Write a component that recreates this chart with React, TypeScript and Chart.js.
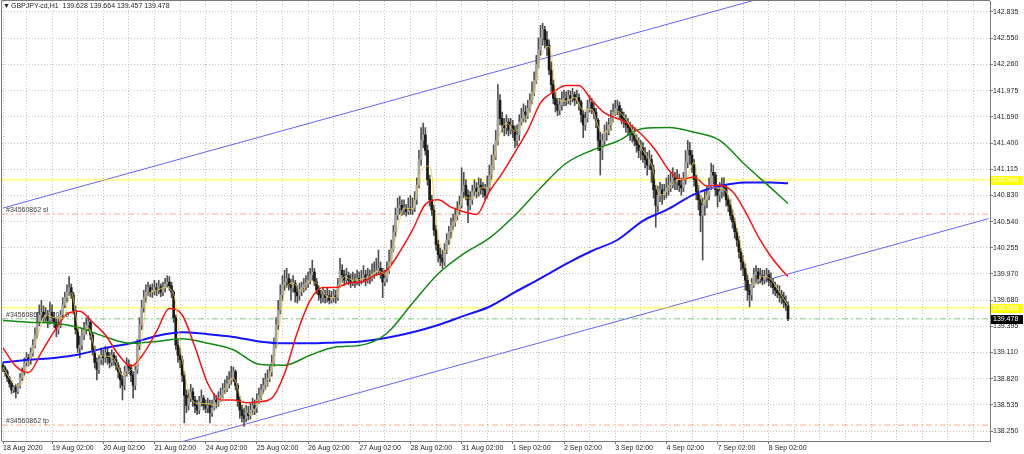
import React, { useEffect, useRef } from 'react';
import { Chart, registerables } from 'chart.js';

Chart.register(...registerables);

// ---------- text / axes ----------
const symbolTitle = 'GBPJPY-cd,H1';
const firstDateLabel = '18 Aug 2020';
const dayLabels = [
  '19 Aug 02:00', '20 Aug 02:00', '21 Aug 02:00', '24 Aug 02:00', '25 Aug 02:00',
  '26 Aug 02:00', '27 Aug 02:00', '28 Aug 02:00', '31 Aug 02:00', '1 Sep 02:00',
  '2 Sep 02:00', '3 Sep 02:00', '4 Sep 02:00', '7 Sep 02:00', '8 Sep 02:00',
];
const yTickValues = [
  142.835, 142.55, 142.26, 141.975, 141.69, 141.4, 141.115, 140.83, 140.54,
  140.255, 139.97, 139.68, 139.395, 139.11, 138.82, 138.535, 138.25,
];

// ---------- H1 candles (18 Aug 03:00 .. 8 Sep 11:00) ----------
const firstOpen = 138.97;
const closes = [
  138.94,138.90,138.83,138.77,138.70,138.73,138.68,138.75,138.83,138.90,139.00,139.05,
  139.03,139.11,139.19,139.30,139.44,139.52,139.55,139.49,139.52,139.46,139.55,139.49,
  139.44,139.36,139.41,139.52,139.63,139.71,139.77,139.82,139.74,139.57,139.36,139.16,
  139.19,139.30,139.36,139.41,139.44,139.30,139.14,139.00,138.92,139.03,139.08,139.05,
  139.11,139.05,139.00,139.08,139.03,138.97,138.90,138.81,138.75,138.90,138.97,138.94,
  138.86,138.75,138.92,139.19,139.41,139.60,139.71,139.77,139.82,139.77,139.79,139.82,
  139.79,139.83,139.77,139.82,139.86,139.88,139.84,139.77,139.49,139.19,139.08,139.03,
  138.86,138.64,138.53,138.61,138.68,138.59,138.53,138.48,138.57,138.61,138.53,138.50,
  138.53,138.45,138.50,138.59,138.57,138.61,138.64,138.70,138.72,138.77,138.81,138.83,
  138.90,138.75,138.59,138.48,138.42,138.39,138.45,138.42,138.48,138.53,138.50,138.59,
  138.64,138.70,138.75,138.81,138.83,138.90,139.00,139.19,139.41,139.57,139.74,139.85,
  139.88,139.92,139.85,139.82,139.87,139.77,139.73,139.79,139.82,139.85,139.87,139.90,
  139.96,139.99,139.88,139.79,139.74,139.71,139.74,139.71,139.73,139.68,139.71,139.73,
  139.71,139.85,140.01,139.96,139.90,139.95,139.90,139.87,139.90,139.88,139.92,139.90,
  139.92,139.96,139.90,139.95,139.92,139.97,139.99,140.01,140.03,139.99,139.88,139.92,
  140.01,140.10,140.25,140.43,140.61,140.69,140.72,140.67,140.69,140.65,140.69,140.67,
  140.69,140.78,140.94,141.22,141.43,141.49,141.32,141.00,140.78,140.67,140.45,140.29,
  140.18,140.14,140.10,140.23,140.34,140.43,140.50,140.54,140.61,140.67,140.72,140.87,
  140.94,140.83,140.72,140.78,140.87,140.91,140.87,140.94,140.91,140.89,140.83,140.91,
  141.05,141.16,141.27,141.43,141.87,141.67,141.60,141.57,141.63,141.54,141.59,141.54,
  141.43,141.49,141.63,141.67,141.74,141.71,141.78,141.87,141.96,142.09,142.26,142.42,
  142.55,142.64,142.53,142.47,142.20,142.04,141.89,141.82,141.76,141.82,141.87,141.89,
  141.87,141.92,141.89,141.93,141.87,141.90,141.85,141.71,141.60,141.67,141.78,141.84,
  141.78,141.74,141.65,141.43,141.32,141.43,141.52,141.54,141.60,141.67,141.74,141.78,
  141.81,141.74,141.67,141.65,141.60,141.57,141.52,141.49,141.43,141.38,141.32,141.35,
  141.27,141.22,141.16,141.22,141.11,140.89,140.72,140.83,140.89,140.83,140.87,140.91,
  140.94,140.97,141.02,140.97,141.00,140.94,140.91,141.00,141.19,141.32,141.27,141.16,
  141.00,140.87,140.78,140.61,140.72,140.78,140.83,140.94,141.08,141.05,140.89,140.83,
  140.87,140.94,140.91,140.78,140.72,140.61,140.54,140.43,140.34,140.21,140.10,140.03,
  139.90,139.79,139.74,139.85,139.96,139.99,139.92,139.95,139.90,139.94,139.96,139.90,
  139.88,139.82,139.79,139.76,139.74,139.71,139.66,139.628,139.478,
];
const highs = [
  139.00,138.96,138.92,138.85,138.80,138.75,138.76,138.77,138.88,138.94,139.05,139.11,
  139.09,139.16,139.25,139.38,139.55,139.63,139.68,139.62,139.60,139.57,139.66,139.63,
  139.55,139.49,139.49,139.57,139.71,139.77,139.85,139.94,139.86,139.77,139.62,139.40,
  139.29,139.36,139.44,139.49,139.51,139.46,139.33,139.18,139.05,139.08,139.16,139.14,
  139.18,139.16,139.11,139.14,139.11,139.07,139.00,138.94,138.86,138.96,139.05,139.03,
  138.98,138.90,138.97,139.25,139.49,139.68,139.79,139.85,139.88,139.85,139.86,139.90,
  139.87,139.90,139.86,139.88,139.92,139.95,139.94,139.88,139.79,139.52,139.25,139.16,
  139.07,138.90,138.70,138.70,138.76,138.72,138.63,138.59,138.63,138.70,138.64,138.59,
  138.61,138.59,138.59,138.66,138.64,138.68,138.72,138.77,138.81,138.85,138.90,138.96,
  138.95,138.92,138.77,138.63,138.53,138.50,138.53,138.52,138.55,138.61,138.59,138.66,
  138.72,138.76,138.83,138.88,138.92,138.96,139.08,139.27,139.49,139.68,139.85,139.95,
  140.01,140.03,139.97,139.91,139.95,139.90,139.84,139.87,139.88,139.92,139.95,139.99,
  140.03,140.12,140.03,139.92,139.84,139.79,139.82,139.79,139.82,139.79,139.78,139.80,
  139.79,139.92,140.14,140.07,140.01,140.03,139.99,139.97,139.99,139.97,140.01,139.99,
  140.01,140.06,140.01,140.03,140.01,140.08,140.10,140.14,140.23,140.10,140.03,140.01,
  140.10,140.23,140.34,140.50,140.69,140.80,140.82,140.78,140.78,140.73,140.80,140.83,
  140.80,140.87,141.02,141.32,141.57,141.62,141.57,141.38,141.05,140.83,140.72,140.50,
  140.34,140.25,140.23,140.30,140.41,140.49,140.58,140.62,140.69,140.76,140.82,141.13,
  141.08,141.00,140.89,140.87,140.94,141.00,140.97,141.02,141.01,140.97,140.95,141.04,
  141.16,141.27,141.38,141.54,142.04,141.93,141.74,141.67,141.71,141.67,141.67,141.65,
  141.59,141.60,141.71,141.78,141.83,141.81,141.87,141.94,142.07,142.18,142.36,142.55,
  142.69,142.71,142.68,142.62,142.53,142.29,142.09,141.96,141.89,141.89,141.96,141.98,
  141.96,141.98,141.97,142.00,141.96,141.98,141.94,141.87,141.76,141.74,141.87,141.92,
  141.89,141.85,141.78,141.67,141.52,141.50,141.60,141.63,141.67,141.76,141.83,141.87,
  141.87,141.85,141.78,141.74,141.71,141.67,141.63,141.60,141.57,141.49,141.46,141.43,
  141.41,141.35,141.30,141.32,141.27,141.16,140.94,140.93,140.97,140.95,140.95,141.02,
  141.05,141.08,141.13,141.08,141.11,141.06,141.02,141.08,141.32,141.43,141.41,141.32,
  141.22,141.05,140.94,140.83,140.80,140.89,140.93,141.02,141.18,141.16,141.08,140.94,
  140.97,141.02,141.02,140.95,140.83,140.78,140.67,140.58,140.47,140.38,140.25,140.17,
  140.08,139.96,139.85,139.92,140.03,140.06,140.03,140.03,140.01,140.01,140.03,140.01,
  139.98,139.92,139.88,139.85,139.84,139.79,139.77,139.73,139.664,
];
const lows = [
  138.90,138.85,138.79,138.73,138.66,138.67,138.61,138.66,138.72,138.80,138.86,138.96,
  138.96,138.98,139.07,139.16,139.27,139.40,139.46,139.44,139.44,139.38,139.42,139.44,
  139.38,139.28,139.31,139.38,139.49,139.60,139.66,139.73,139.70,139.53,139.31,139.11,
  139.05,139.14,139.25,139.31,139.36,139.25,139.08,138.94,138.81,138.88,138.98,138.97,
  139.00,138.98,138.94,138.96,138.97,138.92,138.83,138.72,138.59,138.70,138.85,138.88,
  138.79,138.61,138.70,138.88,139.14,139.36,139.55,139.66,139.73,139.72,139.71,139.74,
  139.73,139.75,139.72,139.73,139.77,139.82,139.79,139.71,139.44,139.14,139.00,138.94,
  138.79,138.34,138.45,138.48,138.57,138.52,138.45,138.43,138.44,138.52,138.48,138.45,
  138.45,138.34,138.41,138.48,138.50,138.52,138.57,138.61,138.66,138.68,138.72,138.76,
  138.79,138.70,138.52,138.39,138.35,138.30,138.35,138.37,138.38,138.43,138.43,138.45,
  138.55,138.59,138.66,138.70,138.74,138.79,138.85,138.96,139.16,139.36,139.53,139.68,
  139.79,139.82,139.79,139.68,139.77,139.66,139.65,139.68,139.73,139.77,139.79,139.82,
  139.86,139.90,139.84,139.75,139.68,139.65,139.66,139.65,139.66,139.64,139.65,139.66,
  139.65,139.68,139.82,139.88,139.84,139.86,139.85,139.82,139.84,139.82,139.85,139.84,
  139.86,139.88,139.84,139.87,139.86,139.89,139.92,139.95,139.97,139.92,139.71,139.84,
  139.88,139.97,140.07,140.21,140.38,140.56,140.62,140.61,140.62,140.60,140.62,140.62,
  140.62,140.65,140.73,140.91,141.16,141.35,141.27,140.94,140.71,140.61,140.39,140.23,
  140.10,140.06,140.03,140.06,140.19,140.29,140.36,140.45,140.49,140.56,140.62,140.69,
  140.80,140.78,140.53,140.67,140.73,140.82,140.80,140.82,140.84,140.81,140.78,140.80,
  140.87,141.00,141.11,141.22,141.38,141.60,141.52,141.48,141.50,141.48,141.50,141.46,
  141.35,141.37,141.43,141.59,141.63,141.63,141.67,141.74,141.83,141.92,142.05,142.22,
  142.36,142.47,142.44,142.36,142.15,141.96,141.83,141.74,141.70,141.71,141.76,141.81,
  141.81,141.83,141.82,141.85,141.81,141.83,141.76,141.63,141.46,141.54,141.63,141.74,
  141.72,141.67,141.57,141.32,141.05,141.22,141.38,141.43,141.49,141.54,141.63,141.70,
  141.71,141.67,141.61,141.57,141.52,141.49,141.43,141.41,141.37,141.30,141.24,141.22,
  141.19,141.13,141.05,141.11,140.97,140.80,140.48,140.65,140.76,140.73,140.78,140.80,
  140.83,140.87,140.91,140.89,140.89,140.87,140.83,140.87,140.95,141.13,141.17,141.08,
  140.93,140.78,140.67,140.43,140.12,140.61,140.69,140.78,140.89,140.95,140.82,140.70,
  140.76,140.80,140.82,140.71,140.65,140.56,140.47,140.36,140.27,140.14,140.01,139.95,
  139.79,139.68,139.61,139.68,139.82,139.88,139.86,139.87,139.85,139.86,139.88,139.84,
  139.82,139.75,139.73,139.71,139.66,139.64,139.60,139.57,139.457,
];

// ---------- moving averages (read every N bars) ----------
const yellowMaStep = 4;
const yellowMa = [
  138.95,138.80,138.75,138.99,139.27,139.52,139.49,139.48,139.76,139.32,139.38,139.09,
  139.07,139.04,138.86,138.92,139.07,139.73,139.79,139.82,139.75,139.04,138.62,138.55,
  138.55,138.53,138.67,138.83,138.57,138.43,138.57,138.77,139.13,139.76,139.87,139.78,
  139.89,139.85,139.72,139.71,139.94,139.90,139.91,139.94,140.00,139.96,140.35,140.69,
  140.68,141.10,141.15,140.39,140.21,140.53,140.80,140.80,140.91,140.92,141.43,141.62,
  141.53,141.63,141.83,142.33,142.46,141.88,141.86,141.90,141.76,141.77,141.54,141.52,
  141.75,141.66,141.50,141.32,141.17,140.83,140.89,141.00,141.01,141.19,140.74,140.91,
  140.91,140.83,140.48,140.06,139.84,139.94,139.91,139.77,139.62,
];
const redMaStep = 6;
const redMa = [
  139.16,138.96,138.89,139.11,139.34,139.53,139.56,139.44,139.30,139.09,138.96,139.10,
  139.34,139.59,139.52,139.17,138.77,138.59,138.59,138.56,138.57,138.61,138.88,139.33,
  139.68,139.82,139.82,139.87,139.88,139.95,140.01,140.21,140.45,140.73,140.78,140.70,
  140.65,140.62,140.87,141.07,141.30,141.54,141.84,141.96,142.03,142.03,141.87,141.73,
  141.67,141.60,141.48,141.32,141.11,141.00,141.03,140.93,140.94,140.87,140.65,140.38,
  140.16,139.99,139.94,
];
const greenMaStep = 12;
const greenMa = [
  139.46,139.44,139.43,139.38,139.28,139.21,139.23,139.26,139.21,139.14,138.98,138.97,
  139.08,139.17,139.19,139.32,139.65,139.97,140.19,140.36,140.61,140.91,141.18,141.32,
  141.42,141.56,141.57,141.52,141.43,141.16,140.91,140.74,
];
const blueMaStep = 12;
const blueMa = [
  139.00,139.03,139.05,139.09,139.16,139.21,139.29,139.33,139.31,139.28,139.23,139.21,
  139.21,139.22,139.23,139.27,139.33,139.41,139.51,139.61,139.77,139.92,140.08,140.22,
  140.34,140.55,140.68,140.84,140.93,140.97,140.97,140.96,
];

// ---------- objects ----------
const levelLines = [140.999, 139.598];
const orderTicket = '#34560862';
const orderPrice = 139.478;
const orderText = 'sell 0.10';
const stopLoss = 140.624;
const takeProfit = 138.315;
const upperChannelIdx = [0, 360];
const upperChannelPrice = [140.69, 143.014];
const lowerChannelIdx = [80, 462];
const lowerChannelPrice = [138.108, 140.574];

// ---------- view ----------
const X_MIN = -0.47;
const X_MAX = 462.7;
const Y_MIN = 138.141;
const Y_MAX = 142.955;
const FONT = 'Liberation Sans';
const TEXT = '#1e1e1e';
const FRAME = '#7a7a7a';
const GRID = '#c4c4c4';

const xTicks: number[] = [0];
for (let v = 11; v <= X_MAX; v += 12) xTicks.push(v);
const xLabelFor = (v: number): string => {
  if (v === 0) return firstDateLabel;
  if ((v - 23) % 24 === 0) {
    const k = (v - 23) / 24;
    if (k >= 0 && k < dayLabels.length) return dayLabels[k];
  }
  return '';
};

const sampled = (values: number[], step: number) =>
  values.map((y, k) => ({ x: Math.min(k * step, closes.length - 1), y }));

export default function App() {
  const ref = useRef<HTMLCanvasElement>(null);

  useEffect(() => {
    const canvas = ref.current;
    if (!canvas) return;
    const n = closes.length;
    const opens = closes.map((_, i) => (i === 0 ? firstOpen : closes[i - 1]));

    const hLine = (y: number) => [{ x: X_MIN, y }, { x: X_MAX, y }];

    const overlay = {
      id: 'mt4Overlay',
      beforeDatasetsDraw(chart: any) {
        const { ctx, chartArea, scales } = chart;
        ctx.save();
        ctx.font = `7px "${FONT}"`;
        ctx.fillStyle = '#404040';
        ctx.textAlign = 'left';
        ctx.textBaseline = 'alphabetic';
        const lx = chartArea.left + 4;
        ctx.fillText(`${orderTicket} sl`, lx, scales.y.getPixelForValue(stopLoss) - 2);
        ctx.fillText(`${orderTicket} ${orderText}`, lx, scales.y.getPixelForValue(orderPrice) - 2);
        ctx.fillText(`${orderTicket} tp`, lx, scales.y.getPixelForValue(takeProfit) - 2);
        ctx.restore();
      },
      afterDraw(chart: any) {
        const { ctx, chartArea, scales } = chart;
        ctx.save();
        ctx.strokeStyle = FRAME;
        ctx.lineWidth = 1;
        ctx.beginPath();
        ctx.moveTo(chartArea.left - 0.5, chartArea.bottom);
        ctx.lineTo(chartArea.left - 0.5, chartArea.top - 0.5);
        ctx.lineTo(chartArea.right, chartArea.top - 0.5);
        ctx.stroke();
        ctx.fillStyle = TEXT;
        ctx.font = `7px "${FONT}"`;
        ctx.textBaseline = 'middle';
        ctx.textAlign = 'left';
        ctx.fillText('\u25BC', 3, 6.5);
        const last = n - 1;
        const header = `${symbolTitle}  ${opens[last].toFixed(3)} ${highs[last].toFixed(3)} ${lows[last].toFixed(3)} ${closes[last].toFixed(3)}`;
        ctx.fillText(header, 11, 6.5);
        const tag = (value: number, bg: string, fg: string) => {
          const y = Math.round(scales.y.getPixelForValue(value));
          ctx.fillStyle = bg;
          ctx.fillRect(chartArea.right + 1, y - 4, 32, 9);
          ctx.fillStyle = fg;
          ctx.fillText(value.toFixed(3), chartArea.right + 3, y + 0.5);
        };
        levelLines.forEach((v) => tag(v, '#ffff00', '#ffffff'));
        tag(closes[last], '#000000', '#ffffff');
        ctx.restore();
      },
    };

    const chart = new Chart(canvas, {
      type: 'bar',
      data: {
        datasets: [
          { type: 'line', data: sampled(yellowMa, yellowMaStep), borderColor: 'rgba(238,205,70,0.8)', borderWidth: 1, pointRadius: 0, cubicInterpolationMode: 'monotone', order: 1 } as any,
          { type: 'line', data: sampled(redMa, redMaStep), borderColor: '#ff1010', borderWidth: 1.5, pointRadius: 0, cubicInterpolationMode: 'monotone', order: 2 } as any,
          { type: 'line', data: sampled(greenMa, greenMaStep), borderColor: '#108a10', borderWidth: 1.5, pointRadius: 0, cubicInterpolationMode: 'monotone', order: 3 } as any,
          { type: 'line', data: sampled(blueMa, blueMaStep), borderColor: '#1414ff', borderWidth: 2, pointRadius: 0, cubicInterpolationMode: 'monotone', order: 4 } as any,
          {
            type: 'bar',
            data: closes.map((c, i) => ({ x: i, y: [opens[i], c] })),
            backgroundColor: closes.map((c, i) => (c >= opens[i] ? '#a4a4a4' : '#1a1a1a')),
            barThickness: 2,
            minBarLength: 1,
            grouped: false,
            order: 10,
          } as any,
          {
            type: 'bar',
            data: highs.map((h, i) => ({ x: i, y: [lows[i], h] })),
            backgroundColor: '#505050',
            barThickness: 1,
            grouped: false,
            order: 11,
          } as any,
          ...levelLines.map((v) => ({ type: 'line', data: hLine(v), borderColor: 'rgba(255,255,0,0.45)', borderWidth: 2, pointRadius: 0, order: 20 } as any)),
          { type: 'line', data: hLine(orderPrice), borderColor: 'rgba(40,160,40,0.6)', borderWidth: 1, borderDash: [6, 3, 2, 3], pointRadius: 0, order: 21 } as any,
          { type: 'line', data: hLine(stopLoss), borderColor: 'rgba(255,110,60,0.6)', borderWidth: 1, borderDash: [6, 3, 2, 3], pointRadius: 0, order: 21 } as any,
          { type: 'line', data: hLine(takeProfit), borderColor: 'rgba(255,110,60,0.6)', borderWidth: 1, borderDash: [6, 3, 2, 3], pointRadius: 0, order: 21 } as any,
          { type: 'line', data: upperChannelIdx.map((x, k) => ({ x, y: upperChannelPrice[k] })), borderColor: '#6464ff', borderWidth: 1, pointRadius: 0, order: 22 } as any,
          { type: 'line', data: lowerChannelIdx.map((x, k) => ({ x, y: lowerChannelPrice[k] })), borderColor: '#6464ff', borderWidth: 1, pointRadius: 0, order: 22 } as any,
        ],
      },
      options: {
        animation: false,
        responsive: false,
        events: [],
        layout: { padding: { left: 2, top: 1, right: 0, bottom: 0 } },
        plugins: { legend: { display: false }, tooltip: { enabled: false } },
        scales: {
          x: {
            type: 'linear',
            min: X_MIN,
            max: X_MAX,
            offset: false,
            grid: {
              offset: false,
              color: GRID,
              lineWidth: 1,
              drawTicks: true,
              tickLength: 3,
              tickColor: (c: any) => (c.tick && xLabelFor(c.tick.value) ? FRAME : 'rgba(0,0,0,0)'),
            },
            border: { display: true, color: FRAME, width: 1, dash: [1, 2] },
            ticks: {
              align: 'start',
              maxRotation: 0,
              minRotation: 0,
              autoSkip: false,
              padding: 0,
              color: TEXT,
              font: { family: FONT, size: 7 },
              callback: (v: any) => xLabelFor(Number(v)),
            },
            afterBuildTicks: (s: any) => {
              s.ticks = xTicks.map((v) => ({ value: v }));
            },
            afterFit: (s: any) => {
              s.height = 13;
              s.paddingLeft = 0;
              s.paddingRight = 0;
            },
          } as any,
          y: {
            type: 'linear',
            position: 'right',
            min: Y_MIN,
            max: Y_MAX,
            grid: { color: GRID, lineWidth: 1, drawTicks: true, tickLength: 3, tickColor: FRAME },
            border: { display: true, color: FRAME, width: 1, dash: [1, 2] },
            ticks: {
              padding: 0,
              color: TEXT,
              font: { family: FONT, size: 7 },
              callback: (v: any) => Number(v).toFixed(3),
            },
            afterBuildTicks: (s: any) => {
              s.ticks = yTickValues.map((v) => ({ value: v }));
            },
            afterFit: (s: any) => {
              s.width = 34;
              s.paddingTop = 0;
              s.paddingBottom = 0;
            },
          } as any,
        },
      } as any,
      plugins: [overlay],
    });

    return () => chart.destroy();
  }, []);

  return (
    <div style={{ position: 'fixed', left: 0, top: 0, width: 1024, height: 454, background: '#ffffff' }}>
      <canvas ref={ref} width={1024} height={454} style={{ display: 'block', width: 1024, height: 454 }} />
    </div>
  );
}
